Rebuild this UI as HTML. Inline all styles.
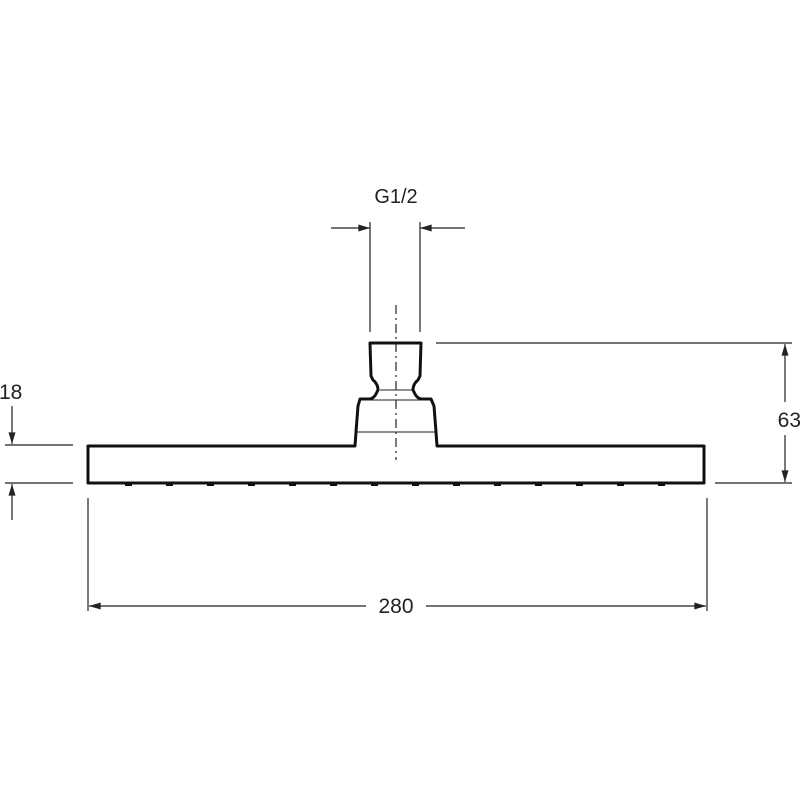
<!DOCTYPE html>
<html><head><meta charset="utf-8"><style>
html,body{margin:0;padding:0;background:#fff;width:800px;height:800px;overflow:hidden}
text{font-family:"Liberation Sans",sans-serif;fill:#222}
</style></head><body>
<svg width="800" height="800" viewBox="0 0 800 800" xmlns="http://www.w3.org/2000/svg">
<defs>
<marker id="a" viewBox="0 0 10 6" refX="10" refY="3" markerWidth="15" markerHeight="7" markerUnits="userSpaceOnUse" orient="auto"><path d="M0,0 L10,3 L0,6 Z" fill="#222"/></marker>
</defs>
<g stroke="#222" stroke-width="1.2" fill="none">
<line x1="370" y1="222" x2="370" y2="332"/>
<line x1="420" y1="222" x2="420" y2="332"/>
<line x1="331" y1="228" x2="370" y2="228" marker-end="url(#a)"/>
<line x1="465" y1="228" x2="420" y2="228" marker-end="url(#a)"/>
<line x1="436" y1="343" x2="792" y2="343"/>
<line x1="715" y1="483" x2="792" y2="483"/>
<line x1="785" y1="402" x2="785" y2="344" marker-end="url(#a)"/>
<line x1="785" y1="435" x2="785" y2="482" marker-end="url(#a)"/>
<line x1="5" y1="445" x2="73" y2="445"/>
<line x1="5" y1="483" x2="73" y2="483"/>
<line x1="12" y1="406" x2="12" y2="444" marker-end="url(#a)"/>
<line x1="12" y1="520" x2="12" y2="484" marker-end="url(#a)"/>
<line x1="88" y1="498" x2="88" y2="611"/>
<line x1="707" y1="498" x2="707" y2="611"/>
<line x1="366" y1="606" x2="89" y2="606" marker-end="url(#a)"/>
<line x1="426" y1="606" x2="706" y2="606" marker-end="url(#a)"/>
<line x1="380" y1="390" x2="412" y2="390" stroke-width="1"/>
<line x1="360" y1="400" x2="431" y2="400" stroke-width="1"/>
<line x1="357" y1="432" x2="437" y2="432" stroke-width="1"/>
<line x1="396" y1="305" x2="396" y2="460" stroke-dasharray="9,4,2,4"/>
</g>
<g stroke="#111" stroke-width="3" fill="none" stroke-linejoin="round">
<path d="M88,446 L355,446 L356,432 L358,406 L360,399 L370,399 Q374,398 376,394 L378,390 Q378,384 373,380 L371,376 L370,343 L421,343 L420,376 L418,380 Q413,384 413,390 L415,394 Q417,398 421,399 L431,399 L434,406 L436,432 L437,446 L704,446 L704,483 L88,483 Z"/>
</g>
<g fill="#111">
<rect x="125" y="483" width="7" height="3"/>
<rect x="166" y="483" width="7" height="3"/>
<rect x="207" y="483" width="7" height="3"/>
<rect x="248" y="483" width="7" height="3"/>
<rect x="289" y="483" width="7" height="3"/>
<rect x="330" y="483" width="7" height="3"/>
<rect x="371" y="483" width="7" height="3"/>
<rect x="412" y="483" width="7" height="3"/>
<rect x="453" y="483" width="7" height="3"/>
<rect x="494" y="483" width="7" height="3"/>
<rect x="535" y="483" width="7" height="3"/>
<rect x="576" y="483" width="7" height="3"/>
<rect x="617" y="483" width="7" height="3"/>
<rect x="658" y="483" width="7" height="3"/>
</g>
<text x="396" y="203" font-size="20" text-anchor="middle">G1/2</text>
<text x="396" y="613" font-size="21" text-anchor="middle">280</text>
<text x="801" y="427" font-size="21" text-anchor="end">63</text>
<text x="-1" y="399" font-size="21">18</text>
</svg>
</body></html>
